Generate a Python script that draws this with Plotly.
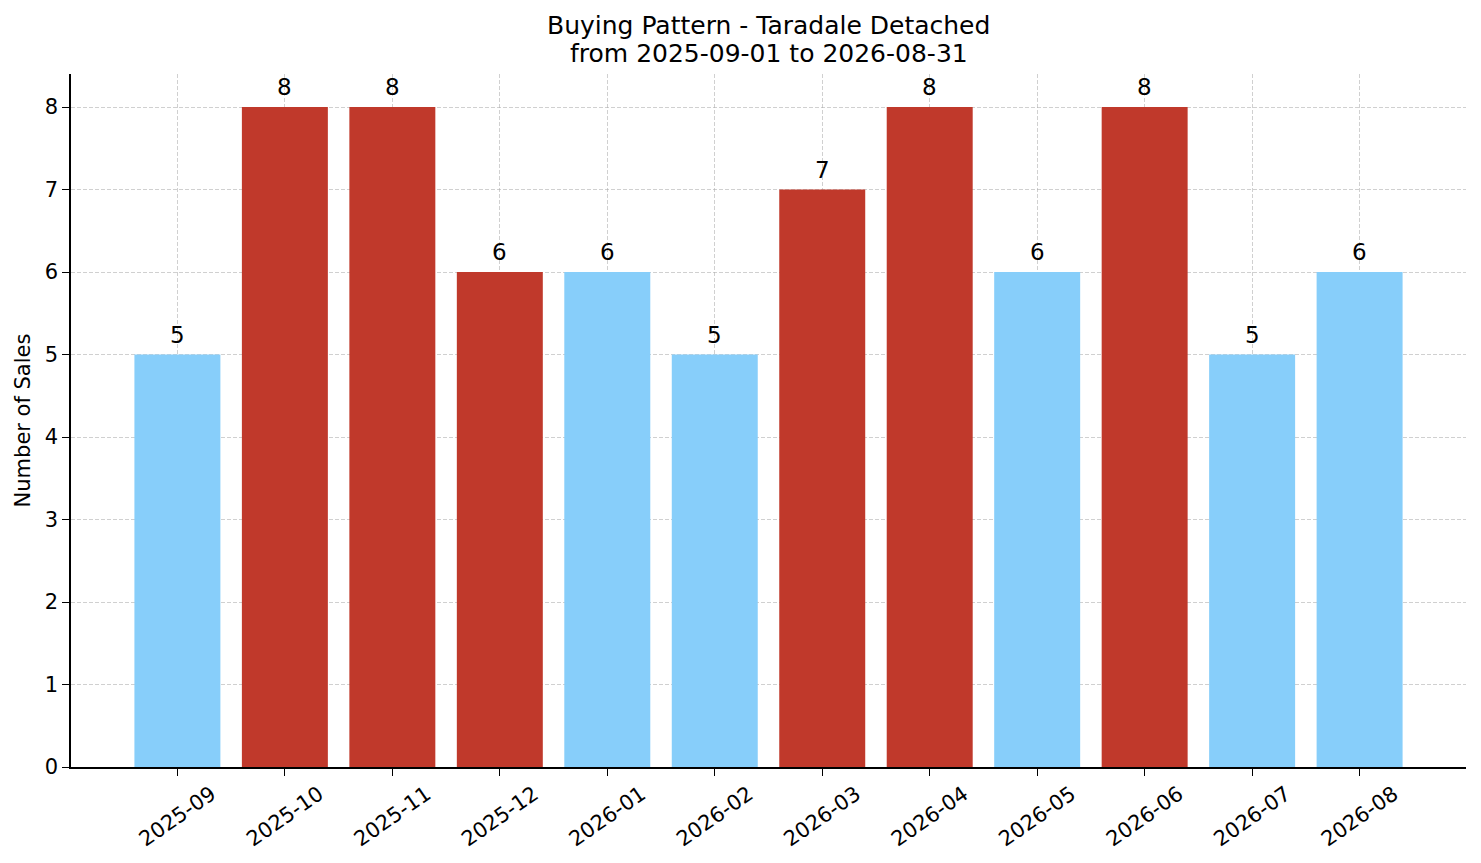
import plotly.graph_objects as go

months = ["2025-09", "2025-10", "2025-11", "2025-12", "2026-01", "2026-02",
          "2026-03", "2026-04", "2026-05", "2026-06", "2026-07", "2026-08"]
sales = [5, 8, 8, 6, 6, 5, 7, 8, 6, 8, 5, 6]
highlight = [False, True, True, True, False, False, True, True, False, True, False, False]
title_lines = ["Buying Pattern - Taradale Detached", "from 2025-09-01 to 2026-08-31"]

RED = "#c0392b"
BLUE = "#87cefa"
colors = [RED if h else BLUE for h in highlight]
FONT = "DejaVu Sans"
GRID = "rgba(170,170,170,0.55)"

x_idx = list(range(len(months)))

fig = go.Figure()
fig.add_trace(go.Bar(
    x=x_idx, y=sales, width=0.8,
    marker=dict(color=colors, line=dict(width=0)),
    hoverinfo="x+y",
))

# value labels above bars
for i, v in zip(x_idx, sales):
    fig.add_annotation(x=i, y=v, xref="x", yref="y", text=str(v), showarrow=False,
                       yanchor="bottom", yshift=5,
                       font=dict(family=FONT, size=23, color="black"))

# title (two lines)
for line, yp in zip(title_lines, [1.0707, 1.0303]):
    fig.add_annotation(x=0.5, y=yp, xref="paper", yref="paper", text=line,
                       showarrow=False, xanchor="center", yanchor="middle",
                       font=dict(family=FONT, size=25, color="black"))

fig.update_layout(
    width=1481, height=863,
    paper_bgcolor="white", plot_bgcolor="white",
    margin=dict(l=71, r=15, t=74, b=96, autoexpand=False),
    font=dict(family=FONT, size=21, color="black"),
    showlegend=False,
    bargap=0.2,
)
fig.update_xaxes(
    tickmode="array", tickvals=x_idx, ticktext=months, tickangle=-35,
    range=[-0.99, 11.99], automargin=False,
    showline=True, linecolor="black", linewidth=1.5,
    ticks="outside", ticklen=7, tickwidth=1.3, tickcolor="black",
    showgrid=True, gridcolor=GRID, griddash="4px,2px", gridwidth=0.9,
    layer="above traces", zeroline=False,
    tickfont=dict(family=FONT, size=21),
    ticklabelshift=34, ticklabelstandoff=-2,
)
fig.update_yaxes(
    range=[0, 8.4], tickmode="array", tickvals=list(range(9)), automargin=False,
    title=dict(text="Number of Sales", font=dict(family=FONT, size=21), standoff=8),
    showline=True, linecolor="black", linewidth=1.5,
    ticks="outside", ticklen=7, tickwidth=1.3, tickcolor="black",
    showgrid=True, gridcolor=GRID, griddash="4px,2px", gridwidth=0.9,
    layer="above traces", zeroline=False,
    tickfont=dict(family=FONT, size=21),
)

fig.write_html("out.html", config={"displayModeBar": False},
               post_script="document.body.style.margin='0';document.body.style.overflow='hidden';")
